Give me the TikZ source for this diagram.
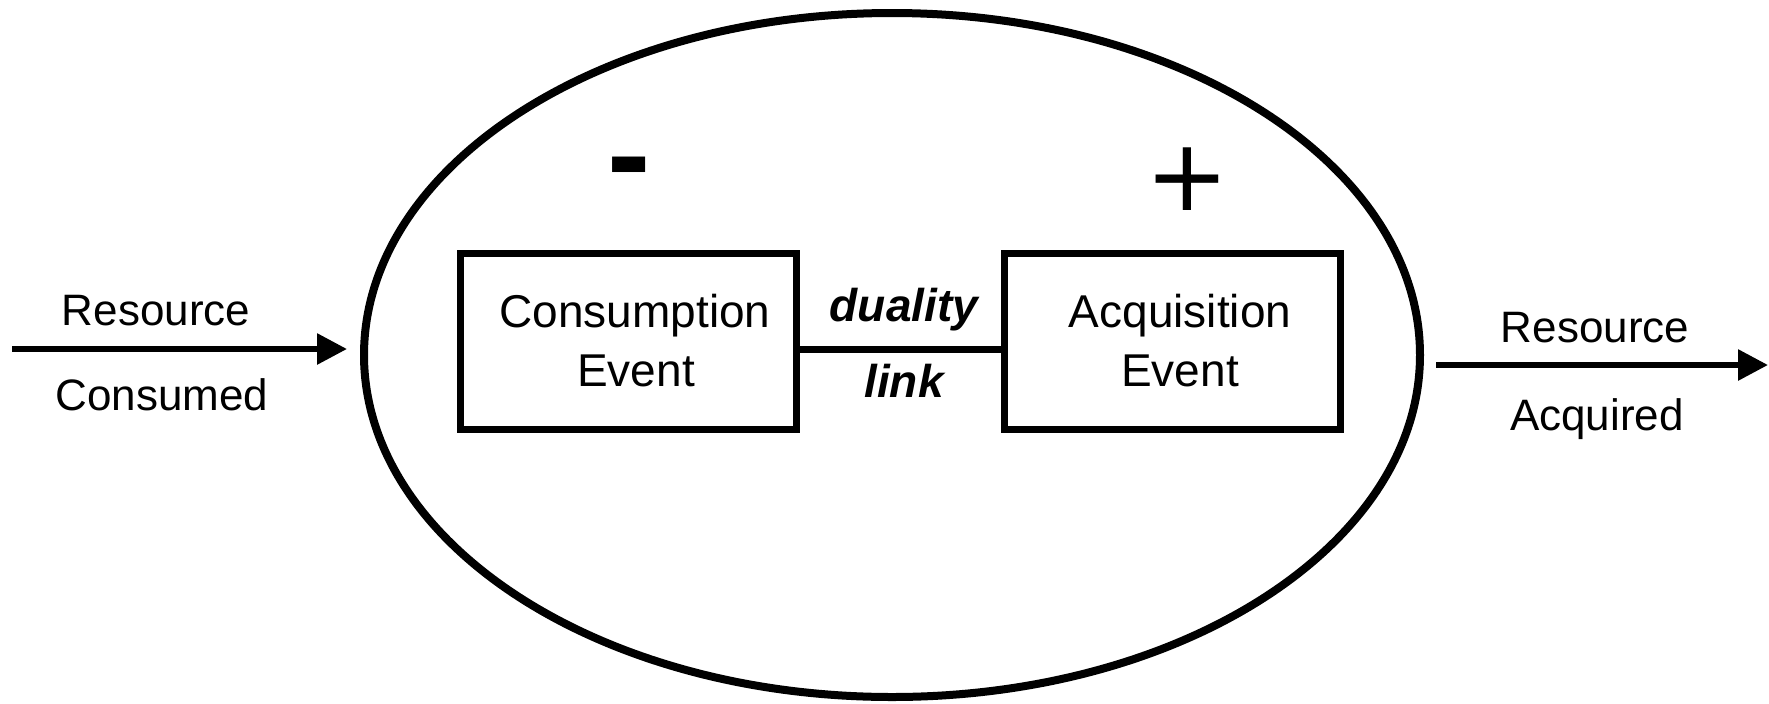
\documentclass[tikz,border=0pt]{standalone}
\usepackage{fontspec}
\setmainfont{Liberation Sans}
\newfontfamily\signfont{DejaVu Sans}
\usetikzlibrary{arrows.meta,shapes.geometric}

\tikzset{
  px/.style={x=0.5pt,y=-0.5pt},
  evbox/.style={draw,line width=3.5pt,minimum width=168pt,minimum height=88pt,inner sep=0pt},
  evtext/.style={anchor=base,inner sep=0pt,font=\fontsize{23}{28}\selectfont},
  flowtext/.style={anchor=base,inner sep=0pt,font=\fontsize{22}{27}\selectfont},
  linktext/.style={anchor=base,inner sep=0pt,font=\fontsize{23}{28}\selectfont\bfseries\itshape},
  flow/.style={line width=3pt,-{Triangle[length=15pt,width=15pt]}},
  sign/.style={anchor=base,inner sep=0pt},
}

\begin{document}
\begin{tikzpicture}[px]
\useasboundingbox (0,0) rectangle (1769,703);

% the exchange process
\node[ellipse,draw,line width=4pt,minimum width=528pt,minimum height=342pt,inner sep=0pt] (process) at (892,355) {};

% the two economic events
\node[evbox] (cons) at (628,341) {};
\node[evbox] (acq) at (1172.5,341) {};
\node[evtext] (consA) at (635,327) {Consumption};
\node[evtext] (consB) at (636,386) {Event};
\node[evtext] (acqA) at (1180,327) {Acquisition};
\node[evtext] (acqB) at (1180,386) {Event};

% duality link between them
\draw[line width=3.5pt] (cons.east |- 0,349) -- (acq.west |- 0,349);
\node[linktext] (dual) at (904,321) {duality};
\node[linktext] (link) at (904,397) {link};

% signs above the events
\node[sign,font=\fontsize{65}{70}\selectfont\bfseries] (minus) at (629,198) {-};
\node[sign,font=\fontsize{50}{55}\signfont] (plus) at (1187.5,210) {+};

% resource flows in and out
\coordinate (inStart) at (12,349);
\coordinate (inTip) at (347,349);
\draw[flow] (inStart) -- (inTip);
\node[flowtext] (inA) at (156,325) {Resource};
\node[flowtext] (inB) at (162,410) {Consumed};

\coordinate (outStart) at (1436,365);
\coordinate (outTip) at (1768,365);
\draw[flow] (outStart) -- (outTip);
\node[flowtext] (outA) at (1595,342) {Resource};
\node[flowtext] (outB) at (1597,430) {Acquired};
\end{tikzpicture}
\end{document}
